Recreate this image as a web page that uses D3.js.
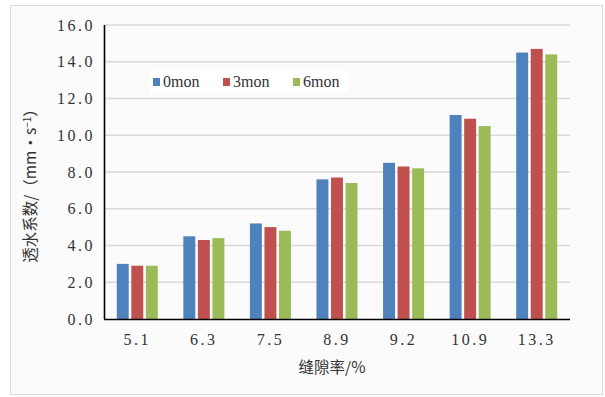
<!DOCTYPE html>
<html>
<head>
<meta charset="utf-8">
<script src="https://d3js.org/d3.v7.min.js"></script>
<style>
body { margin: 0; background: #fff; }
svg text { fill: #333; }
</style>
</head>
<body>
<svg id="chart" width="605" height="397"></svg>
<script>
// data
var categories = ['5.1', '6.3', '7.5', '8.9', '9.2', '10.9', '13.3'];
var seriesNames = ['0mon', '3mon', '6mon'];
var mon0 = [3.0, 4.5, 5.2, 7.6, 8.5, 11.1, 14.5];
var mon3 = [2.9, 4.3, 5.0, 7.7, 8.3, 10.9, 14.7];
var mon6 = [2.9, 4.4, 4.8, 7.4, 8.2, 10.5, 14.4];
var yTicks = [0, 2, 4, 6, 8, 10, 12, 14, 16];

var series = [mon0, mon3, mon6];
var colors = ['#4f81bd', '#c0504d', '#9bbb59'];
var serif = "'Liberation Serif', 'DejaVu Serif', serif";

var svg = d3.select('#chart');
var pL = 104, pR = 570, pT = 25, pB = 319;

// outer frame
svg.append('rect')
  .attr('x', 10.5).attr('y', 5.5).attr('width', 592).attr('height', 389)
  .attr('fill', '#fbfbfb').attr('stroke', '#dcdcdc');

var xs = d3.scaleBand().domain(categories).range([pL, pR]).paddingInner(0).paddingOuter(0);
var xin = d3.scaleBand().domain(seriesNames).range([0, 41]).paddingInner(0.18);
var ys = d3.scaleLinear().domain([0, 16]).range([pB, pT]);

// gridlines
svg.append('g')
  .selectAll('line')
  .data(yTicks.slice(1))
  .enter().append('line')
    .attr('x1', pL).attr('x2', pR)
    .attr('y1', d => ys(d)).attr('y2', d => ys(d))
    .attr('stroke', '#d9d9d9').attr('stroke-width', 1.5);

// legend box (white, sits between gridlines)
var lg = svg.append('g').attr('transform', 'translate(150,70)');
lg.append('rect').attr('width', 198).attr('height', 23).attr('fill', '#fff');
seriesNames.forEach(function(name, i) {
  lg.append('rect')
    .attr('x', 3 + i * 70).attr('y', 8).attr('width', 7).attr('height', 8)
    .attr('fill', colors[i]);
  lg.append('text')
    .attr('x', 13 + i * 70).attr('y', 17)
    .style('font-family', serif)
    .attr('font-size', 16)
    .text(name);
});

// bars
series.forEach(function(vals, si) {
  svg.append('g')
    .selectAll('rect')
    .data(vals)
    .enter().append('rect')
      .attr('x', (d, i) => xs(categories[i]) + (xs.bandwidth() - 41) / 2 + xin(seriesNames[si]))
      .attr('y', d => ys(d))
      .attr('width', xin.bandwidth())
      .attr('height', d => ys(0) - ys(d))
      .attr('fill', colors[si]);
});

// axes
var yAxis = svg.append('g')
  .attr('transform', 'translate(' + pL + ',0)')
  .call(d3.axisLeft(ys).tickValues(yTicks).tickFormat(d3.format('.1f')).tickSize(0).tickPadding(9));
var xAxis = svg.append('g')
  .attr('transform', 'translate(0,' + pB + ')')
  .call(d3.axisBottom(xs).tickSize(0).tickPadding(15));

[yAxis, xAxis].forEach(function(a) {
  a.attr('font-family', null);
  a.select('.domain').attr('stroke', '#000').attr('stroke-width', 1.6);
  a.selectAll('text')
    .style('font-family', serif)
    .attr('font-size', 16)
    .attr('letter-spacing', 2.5)
    .attr('fill', '#333');
});
yAxis.select('.domain').attr('d', 'M0.5,' + pT + 'V' + pB);
xAxis.select('.domain').attr('d', 'M' + pL + ',0.5H' + pR);

// axis titles
svg.append('text')
  .attr('transform', 'translate(36,' + ((pT + pB) / 2 + 10) + ') rotate(-90)')
  .attr('text-anchor', 'middle')
  .style('font-family', "'Noto Sans CJK SC', sans-serif")
  .attr('font-size', 15.5)
  .html('透水系数/（mm•s<tspan dy="-5" font-size="10">−1</tspan><tspan dy="5">）</tspan>');

svg.append('text')
  .attr('x', (pL + pR) / 2 - 5).attr('y', 373)
  .attr('text-anchor', 'middle')
  .style('font-family', "'Noto Sans CJK SC', sans-serif")
  .attr('font-size', 15.5)
  .text('缝隙率/%');
</script>
</body>
</html>
